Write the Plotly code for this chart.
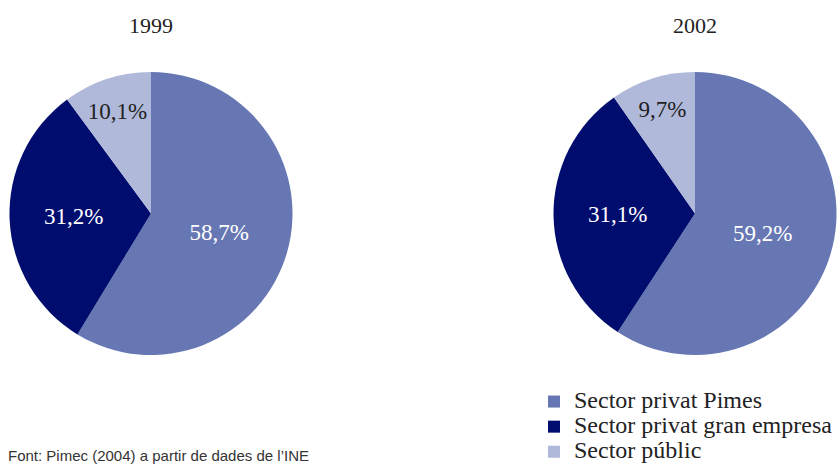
import plotly.graph_objects as go

categories = ["Sector privat Pimes", "Sector privat gran empresa", "Sector públic"]
values_1999 = [58.7, 31.2, 10.1]
values_2002 = [59.2, 31.1, 9.7]
labels_1999 = ["58,7%", "31,2%", "10,1%"]
labels_2002 = ["59,2%", "31,1%", "9,7%"]
years = ["1999", "2002"]
colors = ["#6677B3", "#000C6E", "#B0B9D9"]
text_colors = ["#FFFFFF", "#FFFFFF", "#222222"]
source = "Font: Pimec (2004) a partir de dades de l’INE"

serif = "Liberation Serif, Times New Roman, serif"
W, H = 840, 464
legend_labels = ['<span style="font-size:24px">%s</span>' % c for c in categories]

def pie(vals, txt, dom, show):
    return go.Pie(
        labels=legend_labels, values=vals, text=txt, textinfo="text",
        customdata=categories,
        hovertemplate="%{customdata}: %{text}<extra></extra>",
        textposition="inside", insidetextorientation="horizontal",
        insidetextfont=dict(family=serif, size=23, color=text_colors),
        marker=dict(colors=colors, line=dict(width=0)),
        sort=False, direction="clockwise", rotation=0,
        domain=dom, showlegend=show,
    )

fig = go.Figure()
fig.add_trace(pie(values_1999, labels_1999, dict(x=[9/W, 293/W], y=[1-355/H, 1-72/H]), True))
fig.add_trace(pie(values_2002, labels_2002, dict(x=[553/W, 837/W], y=[1-355/H, 1-72/H]), False))

for yr, cx in zip(years, [151/W, 695/W]):
    fig.add_annotation(text=yr, x=cx, y=1-25/H, xref="paper", yref="paper",
                       showarrow=False, xanchor="center", yanchor="middle",
                       font=dict(family=serif, size=22, color="#222222"))

fig.add_annotation(text=source, x=6/W, y=1-455/H, xref="paper", yref="paper",
                   showarrow=False, xanchor="left", yanchor="middle",
                   font=dict(family="Liberation Sans Narrow, Arial Narrow, sans-serif", size=15, color="#333333"))

fig.update_layout(
    width=W, height=H, margin=dict(l=0, r=0, t=0, b=0, autoexpand=False),
    paper_bgcolor="white", plot_bgcolor="white",
    legend=dict(x=534/W, y=1-427/H, xanchor="left", yanchor="middle",
                font=dict(family=serif, size=17, color="#222222"),
                bgcolor="rgba(0,0,0,0)", itemwidth=30),
)

fig.write_html("out.html", config={"displayModeBar": False},
               post_script="document.body.style.margin='0';document.body.style.overflow='hidden';")
